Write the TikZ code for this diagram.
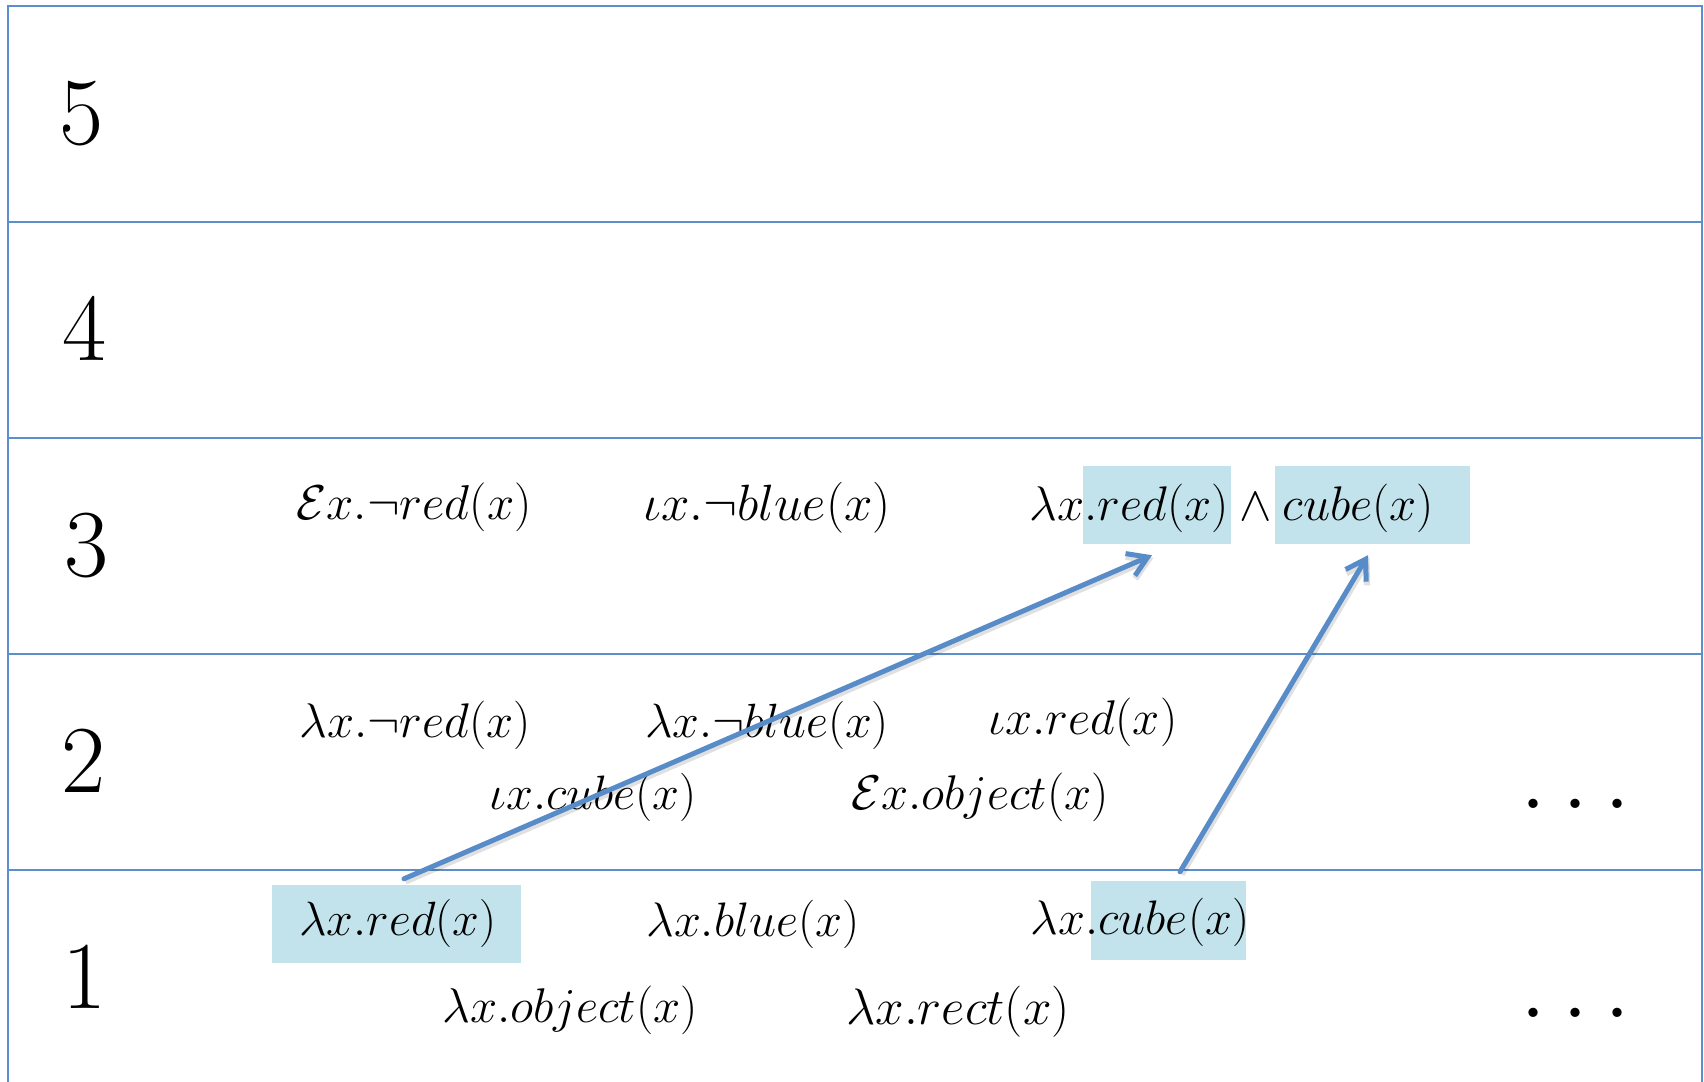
\documentclass[tikz,border=0pt]{standalone}
\usepackage{fix-cm}
\usetikzlibrary{arrows.meta}
\definecolor{frameblue}{RGB}{91,143,203}
\definecolor{arrowblue}{RGB}{88,140,200}
\definecolor{hlblue}{RGB}{194,227,236}
\tikzset{
  mathtxt/.style={anchor=base, inner sep=0pt, font=\fontsize{#1}{#1}\selectfont},
  mathtxt/.default=48.5,
  rowlabel/.style={anchor=base, inner sep=0pt, font=\fontsize{96}{115}\selectfont},
  hl/.style={fill=hlblue, draw=none, inner sep=0pt},
  frameline/.style={draw=frameblue, line width=2.2pt},
  conn/.style={draw=arrowblue, line width=5pt, line cap=round,
    -{Straight Barb[length=19pt,width=24pt,line width=5pt]}},
  connshadow/.style={draw=black, opacity=0.12, line width=6.5pt,
    -{Straight Barb[length=19pt,width=24pt,line width=6.5pt]},
    transform canvas={shift={(1.5pt,-2.5pt)}}}
}
\begin{document}
\begin{tikzpicture}[x=1pt,y=-1pt]
  \useasboundingbox (0,0) rectangle (1704,1081);
  \clip (0,0) rectangle (1704,1081);
  \fill[white] (0,0) rectangle (1704,1081);

  % table frame and row separators
  \draw[frameline] (8,6) rectangle (1702,1086);
  \foreach \yy in {222,438,654,870}
    \draw[frameline] (8,\yy) -- (1702,\yy);

  % row labels
  \node[rowlabel] (l5) at (82,144) {5};
  \node[rowlabel] (l4) at (85,360) {4};
  \node[rowlabel] (l3) at (87,576) {3};
  \node[rowlabel] (l2) at (84,792) {2};
  \node[rowlabel] (l1) at (85,1008) {1};

  % highlights
  \node[hl, minimum width=249pt, minimum height=78pt] (h1) at (396.5,924) {};
  \node[hl, minimum width=155pt, minimum height=79pt] (h2) at (1168.5,920.5) {};
  \node[hl, minimum width=148pt, minimum height=78pt] (h3) at (1157,505) {};
  \node[hl, minimum width=195pt, minimum height=78pt] (h4) at (1372.5,505) {};

  % row 3
  \node[mathtxt=48.9] (t3a) at (414,519) {$\mathcal{E}x.\neg red(x)$};
  \node[mathtxt=51] (t3b) at (767,520) {$\iota x.\neg blue(x)$};
  \node[mathtxt=48.6] (t3c) at (1232,520) {$\lambda x.red(x) \wedge cube(x)$};

  % row 2
  \node[mathtxt=48.6] (t2a) at (415,737) {$\lambda x.\neg red(x)$};
  \node[mathtxt=48.1] (t2b) at (767,737) {$\lambda x.\neg blue(x)$};
  \node[mathtxt=48.7] (t2c) at (1083,734) {$\iota x.red(x)$};
  \node[mathtxt=48.3] (t2d) at (593,809) {$\iota x.cube(x)$};
  \node[mathtxt=48.7] (t2e) at (980,809) {$\mathcal{E}x.object(x)$};
  \node[rowlabel] (d2) at (1575.5,808) {$\ldots$};

  % row 1
  \node[mathtxt=48.1] (t1a) at (398,935) {$\lambda x.red(x)$};
  \node[mathtxt=48.4] (t1b) at (753,936) {$\lambda x.blue(x)$};
  \node[mathtxt=48.4] (t1c) at (1140,934) {$\lambda x.cube(x)$};
  \node[mathtxt=48.7] (t1d) at (570,1022) {$\lambda x.object(x)$};
  \node[mathtxt=51.2] (t1e) at (958,1024) {$\lambda x.rect(x)$};
  \node[rowlabel] (d1) at (1575.5,1017) {$\ldots$};

  % connectors
  \coordinate (a1s) at ([shift={(7.5,-6)}]h1.north);
  \coordinate (a1e) at ([shift={(-5,11)}]h3.south);
  \coordinate (a2s) at ([shift={(11.5,-9)}]h2.north);
  \coordinate (a2e) at ([shift={(-4.5,11)}]h4.south);
  \draw[connshadow] (a1s) -- (a1e);
  \draw[connshadow] (a2s) -- (a2e);
  \draw[conn] (a1s) -- (a1e);
  \draw[conn] (a2s) -- (a2e);
\end{tikzpicture}
\end{document}
